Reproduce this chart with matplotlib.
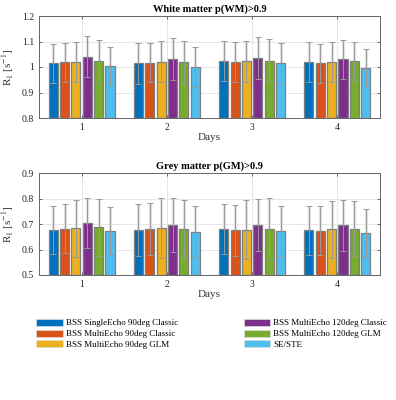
import matplotlib
matplotlib.use("Agg")
import matplotlib.pyplot as plt
import numpy as np
from matplotlib.patches import Patch

plt.rcParams['font.family'] = ['Liberation Serif', 'DejaVu Serif']
plt.rcParams['mathtext.fontset'] = 'stix'

days = [1, 2, 3, 4]
series = ["BSS SingleEcho 90deg Classic", "BSS MultiEcho 90deg Classic", "BSS MultiEcho 90deg GLM",
          "BSS MultiEcho 120deg Classic", "BSS MultiEcho 120deg GLM", "SE/STE"]
colors = ["#0072BD", "#D95319", "#EDB120", "#7E2F8E", "#77AC30", "#4DBEEE"]

# White matter means (rows: series, cols: days)
wm_mean = [
    [1.014, 1.014, 1.025, 1.020],
    [1.019, 1.017, 1.020, 1.014],
    [1.020, 1.021, 1.022, 1.020],
    [1.040, 1.031, 1.035, 1.030],
    [1.022, 1.019, 1.025, 1.022],
    [1.003, 1.000, 1.014, 0.997],
]
wm_err = [
    [0.076, 0.079, 0.078, 0.077],
    [0.077, 0.077, 0.079, 0.075],
    [0.080, 0.080, 0.081, 0.078],
    [0.081, 0.081, 0.082, 0.077],
    [0.083, 0.082, 0.083, 0.077],
    [0.075, 0.077, 0.080, 0.073],
]
# Grey matter means
gm_mean = [
    [0.676, 0.676, 0.680, 0.676],
    [0.682, 0.680, 0.676, 0.674],
    [0.684, 0.684, 0.678, 0.680],
    [0.705, 0.697, 0.697, 0.696],
    [0.688, 0.682, 0.682, 0.682],
    [0.673, 0.670, 0.674, 0.665],
]
gm_err = [
    [0.095, 0.103, 0.099, 0.096],
    [0.096, 0.103, 0.100, 0.096],
    [0.113, 0.119, 0.116, 0.112],
    [0.100, 0.107, 0.104, 0.100],
    [0.112, 0.114, 0.120, 0.108],
    [0.093, 0.100, 0.099, 0.093],
]

fig = plt.figure(figsize=(3.96, 4.0), dpi=100)

def panel(rect, means, errs, ylim, yticks, title):
    ax = fig.add_axes(rect)
    n = len(means)
    spacing = 0.8 / n
    width = spacing * 0.8
    x = np.array(days, dtype=float)
    for i in range(n):
        pos = x + (i - (n - 1) / 2) * spacing
        m = np.array(means[i]); e = np.array(errs[i])
        ax.bar(pos, m - ylim[0], bottom=ylim[0], width=width, color=colors[i],
               edgecolor='#7f7f7f', linewidth=0.9, zorder=3)
        ax.errorbar(pos, m, yerr=e, fmt='none', ecolor='#e2e2e2', elinewidth=2.2,
                    capsize=0, zorder=2)
        ax.errorbar(pos, m, yerr=e, fmt='none', ecolor='#999999', elinewidth=0.7,
                    capsize=2.2, capthick=0.7, zorder=5)
    ax.set_xlim(0.5, 4.5)
    ax.set_ylim(*ylim)
    ax.set_xticks(days)
    ax.set_yticks(yticks)
    ax.set_yticklabels([("%g" % t) for t in yticks])
    ax.grid(True, color='#e6e6e6', linewidth=0.7, zorder=0)
    ax.set_axisbelow(True)
    ax.tick_params(direction='in', length=2.5, labelsize=7, top=True, right=True,
                   colors='#555555', labelcolor='#262626', width=0.6)
    for s in ax.spines.values():
        s.set_color('#666666'); s.set_linewidth(0.7)
    ax.set_xlabel('Days', fontsize=8, labelpad=1, color='#333333')
    ax.set_ylabel(r'R$_1$ [s$^{-1}$]', fontsize=8, labelpad=4, color='#333333')
    ax.set_title(title, fontsize=7.5, fontweight='bold', pad=3)
    return ax

panel([0.0985, 0.705, 0.861, 0.255], wm_mean, wm_err, (0.8, 1.2),
      [0.8, 0.9, 1.0, 1.1, 1.2], 'White matter p(WM)>0.9')
panel([0.0985, 0.3125, 0.861, 0.254], gm_mean, gm_err, (0.5, 0.9),
      [0.5, 0.6, 0.7, 0.8, 0.9], 'Grey matter p(GM)>0.9')

handles = [Patch(facecolor=c, edgecolor='#dddddd', linewidth=0.5) for c in colors]
kw = dict(frameon=False, fontsize=6.5, handlelength=2.9, handleheight=0.8,
          handletextpad=0.35, labelspacing=0.25, borderaxespad=0, borderpad=0)
fig.legend(handles[:3], series[:3], loc='upper left', bbox_to_anchor=(0.092, 0.203), **kw)
fig.legend(handles[3:], series[3:], loc='upper left', bbox_to_anchor=(0.615, 0.203), **kw)

fig.savefig('out.png', dpi=100)
